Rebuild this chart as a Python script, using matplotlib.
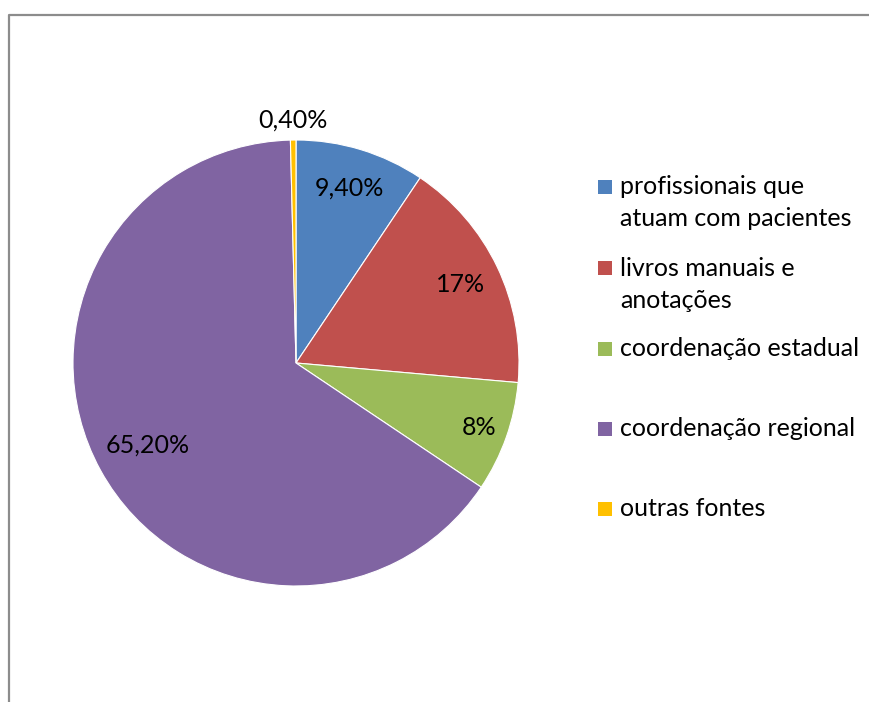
import matplotlib
matplotlib.use("Agg")
from matplotlib import pyplot as plt
from matplotlib.patches import Rectangle
import numpy as np

# data
categories = ['profissionais que\natuam com pacientes', 'livros manuais e\nanotações',
              'coordenação estadual', 'coordenação regional', 'outras fontes']
values = [9.4, 17, 8, 65.2, 0.4]
colors = ['#4F81BD', '#C0504D', '#9BBB59', '#8064A2', '#FFC000']


def pct_label(v):
    if float(v).is_integer():
        return '%d%%' % v
    return ('%.2f%%' % v).replace('.', ',')


plt.rcParams['font.family'] = ['Lato', 'DejaVu Sans']

fig = plt.figure(figsize=(8.69, 7.02), dpi=100)

# chart frame (cropped, only top and left edge visible)
frame = fig.add_axes([0, 0, 1, 1])
frame.set_xlim(0, 869)
frame.set_ylim(702, 0)
frame.axis('off')
frame.plot([8.5, 8.5, 869], [702, 14.5, 14.5], color='#8c8c8c', lw=1.6)

ax = fig.add_axes([73 / 869, (702 - 586) / 702, 446 / 869, 446 / 702])
wedges, _ = ax.pie(values, colors=colors, startangle=90, counterclock=False,
                   radius=1, wedgeprops=dict(edgecolor='white', linewidth=0.8))
ax.set_xlim(-1, 1)
ax.set_ylim(-1, 1)
ax.set_aspect('equal')

label_dist = [0.82, 0.82, 0.87, 0.76, 1.09]
for w, v, d in zip(wedges, values, label_dist):
    ang = np.deg2rad((w.theta1 + w.theta2) / 2)
    ax.text(d * np.cos(ang), d * np.sin(ang), pct_label(v), ha='center', va='center',
            fontsize=18, color='black')

# legend
legend_y = [187, 268, 349, 429, 509]
for lab, c, y in zip(categories, colors, legend_y):
    frame.add_patch(Rectangle((598, y - 7), 14, 14, facecolor=c, edgecolor='none'))
    for i, line in enumerate(lab.split('\n')):
        frame.text(620, y + i * 32, line, ha='left', va='center', fontsize=18,
                   color='black')

fig.savefig('out.png', dpi=100)
